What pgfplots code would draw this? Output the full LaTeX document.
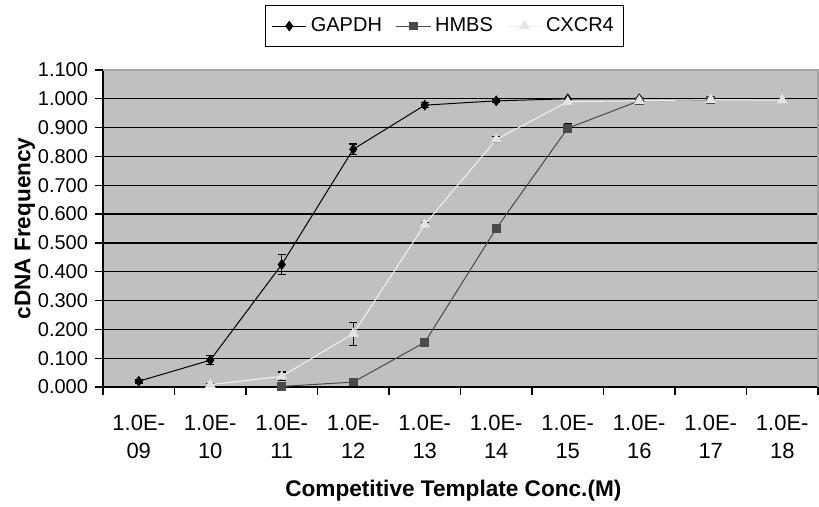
\documentclass[border=0pt]{standalone}
\usepackage{pgfplots}
\pgfplotsset{compat=1.18}
\usepackage{fontspec}
\setmainfont{Liberation Sans}
\definecolor{plotbg}{HTML}{C0C0C0}
\definecolor{hmbs}{HTML}{4A4A4A}
\definecolor{cxcrline}{HTML}{F2F2F2}
\definecolor{cxcrmark}{HTML}{E4E4E4}

% x = category index (0 = 1.0E-09 ... 9 = 1.0E-18)
\pgfplotstableread{
x y e
0 0.020 0.006
1 0.093 0.015
2 0.425 0.035
3 0.825 0.018
4 0.978 0.008
5 0.993 0.006
6 1.000 0.000
7 1.000 0.000
}\gapdh

\pgfplotstableread{
x y e
2 0.002 0.002
3 0.017 0.005
4 0.155 0.010
5 0.550 0.015
6 0.898 0.015
7 0.993 0.005
8 0.996 0.004
}\hmbs

\pgfplotstableread{
x y e
1 0.008 0.003
2 0.037 0.015
3 0.185 0.040
4 0.564 0.008
5 0.859 0.010
6 0.990 0.008
7 0.993 0.008
8 0.997 0.008
9 0.995 0.005
}\cxcr

\begin{document}
\begin{tikzpicture}
\useasboundingbox (-51.5pt,-60pt) rectangle (358pt,193.5pt);
\begin{axis}[
    scale only axis,
    width=357.5pt, height=158.5pt,
    xmin=-0.5, xmax=9.5,
    ymin=0, ymax=1.1,
    axis background/.style={fill=plotbg},
    axis line style={black, line width=0.6pt},
    xtick pos=bottom, ytick pos=left,
    tick align=outside,
    major tick length=4pt,
    tick style={black, line width=0.6pt},
    xtick={-0.5,0.5,...,9.5},
    xticklabels={},
    extra x ticks={0,...,9},
    extra x tick labels={1.0E-\\09,1.0E-\\10,1.0E-\\11,1.0E-\\12,1.0E-\\13,1.0E-\\14,1.0E-\\15,1.0E-\\16,1.0E-\\17,1.0E-\\18},
    extra x tick style={major tick length=0pt, xticklabel style={align=center, yshift=-10.4pt, font=\fontsize{11}{14}\selectfont}},
    ytick={0,0.1,...,1.1},
    ymajorgrids,
    grid style={black, line width=0.6pt},
    yticklabel style={/pgf/number format/.cd, fixed, fixed zerofill, precision=3, assume math mode=true},
    tick label style={font=\fontsize{10}{12}\selectfont},
    label style={font=\bfseries\fontsize{11.3}{13}\selectfont},
    xlabel={Competitive Template Conc.(M)},
    ylabel={cDNA Frequency},
    xlabel style={at={(axis description cs:0.49,-0.328)}, anchor=center},
    ylabel style={at={(axis description cs:-0.109,0.5)}, anchor=center},
    legend style={at={(axis description cs:0.478,1.205)}, anchor=north,
        draw=black, line width=0.6pt, fill=white,
        font=\fontsize{10}{12}\selectfont, inner ysep=4pt,
        /tikz/every even column/.append style={column sep=5pt}},
    legend columns=3,
    clip=false,
]
\addplot[black, line width=0.5pt, mark=diamond*, mark size=2.3pt,
    mark options={solid, fill=black, draw=black},
    error bars/.cd, y dir=both, y explicit,
    error bar style={black, line width=0.6pt},
    error mark options={rotate=90, mark size=2pt, black, line width=0.6pt}]
    table[x=x, y=y, y error=e] {\gapdh};
\addlegendentry{GAPDH}
\addplot[hmbs, line width=0.5pt, mark=square*, mark size=1.9pt,
    mark options={solid, fill=hmbs, draw=hmbs},
    error bars/.cd, y dir=both, y explicit,
    error bar style={black, line width=0.6pt},
    error mark options={rotate=90, mark size=2pt, black, line width=0.6pt}]
    table[x=x, y=y, y error=e] {\hmbs};
\addlegendentry{HMBS}
\addplot[cxcrline, line width=0.5pt, mark=triangle*, mark size=2.6pt,
    mark options={solid, fill=cxcrmark, draw=cxcrmark},
    error bars/.cd, y dir=both, y explicit,
    error bar style={black, line width=0.6pt},
    error mark options={rotate=90, mark size=2pt, black, line width=0.6pt}]
    table[x=x, y=y, y error=e] {\cxcr};
\addlegendentry{CXCR4}
\draw[gray!70, line width=0.6pt] (rel axis cs:0,1) -- (rel axis cs:1,1) -- (rel axis cs:1,0);
\end{axis}
\end{tikzpicture}
\end{document}
